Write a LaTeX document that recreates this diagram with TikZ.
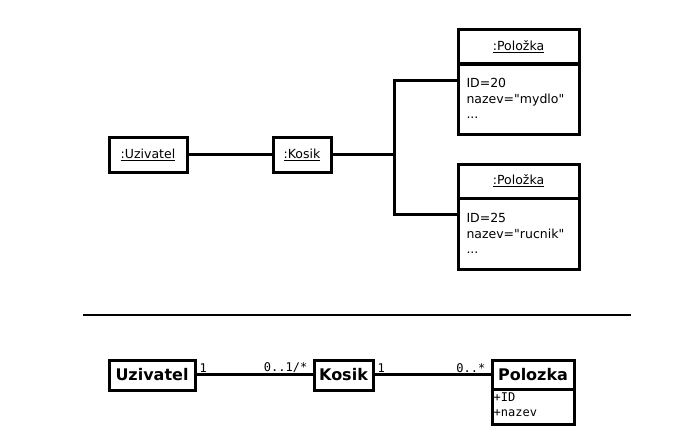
\documentclass[tikz,border=0pt]{standalone}
\usepackage{fontspec}
\setmainfont{DejaVu Sans}[Ligatures=TeXOff]
\setmonofont{DejaVu Sans Mono}
\begin{document}
\begin{tikzpicture}[x=1pt,y=-1pt,
  obj/.style={draw=black,line width=3pt,rectangle,inner sep=0pt,font=\fontsize{12.5}{15.5}\selectfont},
  attrbox/.style={obj,align=left,text width=104pt,inner xsep=8pt,anchor=center},
  cls/.style={draw=black,line width=3pt,rectangle,inner sep=0pt,font=\fontsize{16}{18}\selectfont\bfseries},
  conn/.style={line width=3pt},
  mult/.style={font=\fontsize{12}{13}\selectfont\ttfamily,inner sep=1pt},
  attr/.style={font=\fontsize{12}{15}\selectfont\ttfamily,inner sep=0pt,align=left}]
\useasboundingbox (0,0) rectangle (682,447);
% top: object diagram
\node[obj,minimum width=78pt,minimum height=35pt] (uz) at (148,154.5) {\underline{:Uzivatel}};
\node[obj,minimum width=58pt,minimum height=35pt] (ko) at (302,154.5) {\underline{:Kosik}};
\node[obj,minimum width=121pt,minimum height=35pt] (p1h) at (518.5,46.5) {\underline{:Položka}};
\node[attrbox,minimum width=121pt,minimum height=71pt] (p1b) at (518.5,98.5) {ID=20\\nazev="mydlo"\\...};
\node[obj,minimum width=121pt,minimum height=34pt] (p2h) at (518.5,181) {\underline{:Položka}};
\node[attrbox,minimum width=121pt,minimum height=71pt] (p2b) at (518.5,233.5) {ID=25\\nazev="rucnik"\\...};
\coordinate (j) at (394.5,154.5);
\draw[conn] (uz) -- (ko);
\draw[conn] (ko) -- (j);
\draw[conn] (j) |- ([yshift=-18.5pt]p1b.north west);
\draw[conn] (j) |- ([yshift=-18pt]p2b.north west);
% separator
\coordinate (sa) at (83,315);
\coordinate (sb) at (631,315);
\draw[line width=1.3pt] (sa) -- (sb);
% bottom: class diagram
\node[cls,minimum width=86pt,minimum height=30pt] (U) at (152,375) {Uzivatel};
\node[cls,minimum width=59pt,minimum height=30pt] (K) at (343.5,375) {Kosik};
\node[cls,minimum width=82pt,minimum height=29pt] (Ph) at (533,374.5) {Polozka};
\node[draw=black,line width=3pt,minimum width=82pt,minimum height=35pt,inner sep=0pt] (Pb) at (533,406.5) {};
\node[attr,anchor=north west] (at) at ([xshift=3pt,yshift=-5.5pt]Pb.north west) {+ID\\+nazev};
\draw[conn] (U.east |- 0,374.5) -- (K.west |- 0,374.5);
\draw[conn] (K.east |- 0,374.5) -- (Ph.west |- 0,374.5);
\node[mult,anchor=south west] (m1) at ([xshift=2pt,yshift=1pt]U.east |- 0,374.5) {1};
\node[mult,anchor=south east] (m2) at ([xshift=-4pt,yshift=1pt]K.west |- 0,374.5) {0..1/*};
\node[mult,anchor=south west] (m3) at ([xshift=2pt,yshift=1pt]K.east |- 0,374.5) {1};
\node[mult,anchor=south east] (m4) at ([xshift=-4pt,yshift=1pt]Ph.west |- 0,374.5) {0..*};
\end{tikzpicture}
\end{document}
